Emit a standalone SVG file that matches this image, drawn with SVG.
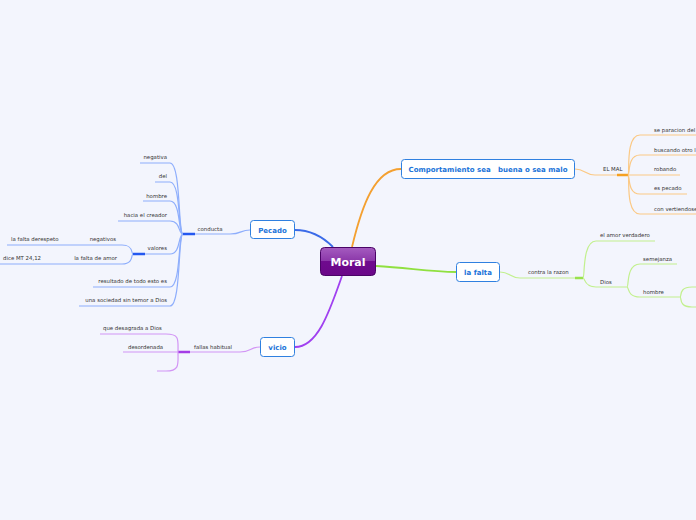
<svg xmlns="http://www.w3.org/2000/svg" width="696" height="520" viewBox="0 0 696 520">
<defs>
<linearGradient id="mg" x1="0" y1="0" x2="0" y2="1">
<stop offset="0" stop-color="#a55cc0"/><stop offset="0.5" stop-color="#8a36a8"/><stop offset="0.5" stop-color="#6f0b8e"/><stop offset="1" stop-color="#6a0788"/>
</linearGradient>
<style>
.t{font-family:"DejaVu Sans",Verdana,sans-serif;font-size:5.4px;fill:#333}
.n{font-family:"DejaVu Sans",Verdana,sans-serif;font-size:7px;font-weight:bold;fill:#1a73d9;text-anchor:middle}
.box{fill:#fff;stroke:#2f80e0;stroke-width:1}
.c{fill:none;stroke-width:1.2}
.m{fill:none;stroke-width:1.8}
.b{stroke:#8eaefc}.bh{stroke:#2458f0;stroke-width:2.5}
.p{stroke:#d295f5}.ph{stroke:#a43ce6;stroke-width:2.5}
.o{stroke:#fbc985}.oh{stroke:#f5a020;stroke-width:2.5}
.g{stroke:#c2f08e}.gh{stroke:#98e24c;stroke-width:2.5}
</style>
</defs>
<rect width="696" height="520" fill="#f3f5fd"/>
<g id="connectors">
<path class="m" d="M333,247 C322,236 310,230 295,230" stroke="#3b6be8"/>
<path class="m" d="M352,247 C362,205 375,169 401,169" stroke="#f4a030"/>
<path class="m" d="M376,266 C410,268 430,272 456,272" stroke="#90e040"/>
<path class="m" d="M342,276 C330,310 318,347 295,347" stroke="#a040f0"/>
<!-- Pecado -->
<path class="c b" d="M250,230 C240,230 242,234 230,234 L183,234"/>
<path class="c bh" d="M183,234 L195,234"/>
<path class="c b" d="M183,234 C178,234 181,163 170,163 L140,163"/>
<path class="c b" d="M183,234 C178,234 181,182 170,182 L155,182"/>
<path class="c b" d="M183,234 C178,234 181,201 170,201 L143,201"/>
<path class="c b" d="M183,234 C178,234 181,221 170,221 L118,221"/>
<path class="c b" d="M183,234 C178,234 181,254 170,254 L133,254"/>
<path class="c b" d="M183,234 C178,234 181,287 170,287 L93,287"/>
<path class="c b" d="M183,234 C178,234 181,306 170,306 L79,306"/>
<path class="c bh" d="M133,254 L145,254"/>
<path class="c b" d="M133,254 C131,254 134,245 122,245 L7,245"/>
<path class="c b" d="M133,254 C131,254 134,264 122,264 L0,264"/>
<!-- vicio -->
<path class="c p" d="M260,347 C250,347 252,352 240,352 L178,352"/>
<path class="c ph" d="M178,352 L190,352"/>
<path class="c p" d="M178,352 C178,340 180,334 166,334 L100,334"/>
<path class="c p" d="M178,352 L123,352"/>
<path class="c p" d="M178,352 C178,364 180,371 166,371 L157,371"/>
<!-- Comportamiento -->
<path class="c o" d="M575,169 C585,169 585,175 595,175 L628,175"/>
<path class="c oh" d="M617,175 L628,175"/>
<path class="c o" d="M628,175 C630,175 625,135 640,135 L696,135"/>
<path class="c o" d="M628,175 C630,175 627,155 640,155 L696,155"/>
<path class="c o" d="M628,175 L680,175"/>
<path class="c o" d="M628,175 C630,175 627,194 640,194 L687,194"/>
<path class="c o" d="M628,175 C630,175 625,214 640,214 L696,214"/>
<!-- la falta -->
<path class="c g" d="M500,272 C510,272 510,278 520,278 L583,278"/>
<path class="c gh" d="M575,278 L583,278"/>
<path class="c g" d="M583,278 C585,278 582,241 596,241 L655,241"/>
<path class="c g" d="M583,278 C585,278 584,287 596,287 L627,287"/>
<path class="c g" d="M627,287 C629,287 626,264 640,264 L677,264"/>
<path class="c g" d="M627,287 C629,287 627,297 640,297 L680,297"/>
<path class="c g" d="M680,297 C682,297 678,287 692,287 L696,287"/>
<path class="c g" d="M680,297 C682,297 678,307 692,307 L696,307"/>
</g>
<g id="moral">
<rect x="320.5" y="247.5" width="55" height="28" rx="4" fill="url(#mg)" stroke="#4a0466"/>
<text x="348" y="265.5" font-family="DejaVu Sans,Verdana,sans-serif" font-size="11" font-weight="bold" fill="#fff" text-anchor="middle">Moral</text>
</g>
<g id="pecado">
<rect class="box" x="250.5" y="220.5" width="44" height="18" rx="3"/>
<text class="n" x="272.5" y="232.5">Pecado</text>
</g>
<g id="vicio">
<rect class="box" x="260.5" y="337.5" width="34" height="19" rx="3"/>
<text class="n" x="277.5" y="350">vicio</text>
</g>
<g id="comportamiento">
<rect class="box" x="401.5" y="159.5" width="173" height="19" rx="3"/>
<text class="n" x="488" y="172" xml:space="preserve">Comportamiento sea   buena o sea malo</text>
</g>
<g id="lafalta">
<rect class="box" x="456.5" y="262.5" width="43" height="19" rx="3"/>
<text class="n" x="478" y="275">la falta</text>
</g>
<g id="labels">
<text class="t" x="210" y="231" text-anchor="middle">conducta</text>
<text class="t" x="167" y="159" text-anchor="end">negativa</text>
<text class="t" x="167" y="178" text-anchor="end">del</text>
<text class="t" x="167" y="198" text-anchor="end">hombre</text>
<text class="t" x="167" y="217" text-anchor="end">hacia el creador</text>
<text class="t" x="167" y="250" text-anchor="end">valores</text>
<text class="t" x="167" y="283" text-anchor="end">resultado de todo esto es</text>
<text class="t" x="167" y="302" text-anchor="end">una sociedad sin temor a Dios</text>
<text class="t" x="116" y="241" text-anchor="end">negativos</text>
<text class="t" x="11" y="241">la falta derespeto</text>
<text class="t" x="117" y="260" text-anchor="end">la falta de amor</text>
<text class="t" x="3" y="260">dice MT 24,12</text>
<text class="t" x="213" y="349" text-anchor="middle">fallas habitual</text>
<text class="t" x="103" y="330">que desagrada a Dios</text>
<text class="t" x="128" y="349">desordenada</text>
<text class="t" x="603" y="171">EL MAL</text>
<text class="t" x="654" y="132">se paracion del</text>
<text class="t" x="654" y="152">buscando otro l</text>
<text class="t" x="654" y="171">robando</text>
<text class="t" x="654" y="190">es pecado</text>
<text class="t" x="654" y="211">con vertiendose</text>
<text class="t" x="528" y="274">contra la razon</text>
<text class="t" x="600" y="237">el amor verdadero</text>
<text class="t" x="600" y="284">Dios</text>
<text class="t" x="643" y="261">semejanza</text>
<text class="t" x="643" y="294">hombre</text>
</g>
</svg>
